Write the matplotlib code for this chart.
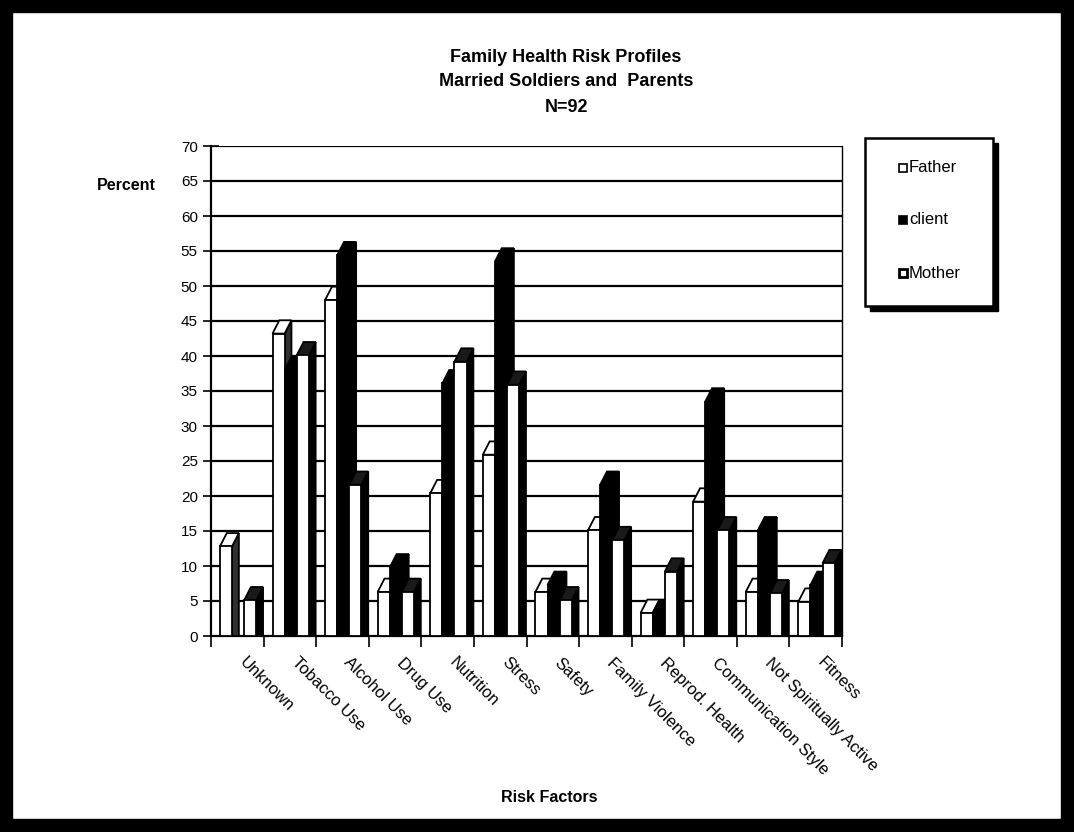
import matplotlib
matplotlib.use("Agg")
import matplotlib.pyplot as plt
from matplotlib.patches import Polygon, Rectangle

plt.rcParams["font.family"] = ["Liberation Sans Narrow", "Liberation Sans", "DejaVu Sans"]

categories = ["Unknown", "Tobacco Use", "Alcohol Use", "Drug Use", "Nutrition",
              "Stress", "Safety", "Family Violence", "Reprod. Health",
              "Communication Style", "Not Spiritually Active", "Fitness"]
series_names = ["Father", "client", "Mother"]
father = [12.8, 43.2, 48.0, 6.3, 20.4, 25.9, 6.3, 15.1, 3.3, 19.2, 6.3, 4.9]
client = [0.0, 38.0, 54.4, 9.8, 36.1, 53.5, 7.3, 21.6, 3.3, 33.5, 15.1, 7.3]
mother = [5.1, 40.1, 21.6, 6.3, 39.2, 35.9, 5.1, 13.7, 9.2, 15.1, 6.1, 10.4]
yticks = list(range(0, 75, 5))

W, H = 1074, 832
fig = plt.figure(figsize=(W / 100, H / 100), dpi=100)
fig.patch.set_facecolor("white")


def px(x, y):
    # pixel position (origin top-left) -> figure fraction
    return x / W, 1 - y / H


ax_left, ax_right, ax_top, ax_bot = 211, 842, 146, 636
ax = fig.add_axes([ax_left / W, 1 - ax_bot / H,
                   (ax_right - ax_left) / W, (ax_bot - ax_top) / H])
ax.set_xlim(0, len(categories))
ax.set_ylim(0, 70)

# back-wall gridlines
for v in yticks[1:]:
    ax.axhline(v, color="black", lw=1.6, zorder=1)

# pseudo-3D columns: front face from ax.bar, top and side faces offset obliquely
offsets = [0.17, 0.40, 0.63]
bw = 0.23
dx, dy = 0.13, 1.9
fronts = ["white", "black", "white"]
tops = ["white", "black", "#1a1a1a"]
sides = ["#303030", "black", "black"]

for j, vals in enumerate([father, client, mother]):
    xs = [i + offsets[j] for i in range(len(categories))]
    bars = ax.bar(xs, vals, width=bw, align="edge", color=fronts[j],
                  edgecolor="black", linewidth=1.3)
    for i, (bar, h) in enumerate(zip(bars, vals)):
        z = 3 + (i * 3 + j) * 0.01
        bar.set_zorder(z + 0.005)
        if h <= 0:
            bar.set_visible(False)
            continue
        x0, x1 = xs[i], xs[i] + bw
        side = Polygon([(x1, 0), (x1 + dx, 0), (x1 + dx, h + dy), (x1, h)],
                       closed=True, facecolor=sides[j], edgecolor="black",
                       lw=1.3, zorder=z)
        top = Polygon([(x0, h), (x0 + dx, h + dy), (x1 + dx, h + dy), (x1, h)],
                      closed=True, facecolor=tops[j], edgecolor="black",
                      lw=1.3, zorder=z + 0.002)
        ax.add_patch(side)
        ax.add_patch(top)

ax.spines["top"].set_visible(False)
ax.spines["left"].set_linewidth(1.6)
ax.spines["bottom"].set_linewidth(1.6)
ax.spines["right"].set_linewidth(1.0)

ax.set_yticks(yticks)
ax.set_yticklabels([str(v) for v in yticks], fontsize=11)
ax.tick_params(axis="y", direction="inout", length=11, width=1.2, pad=4)
ax.set_xticks(range(len(categories) + 1))
ax.set_xticklabels([])
ax.tick_params(axis="x", direction="out", length=8, width=1.2)

for i, name in enumerate(categories):
    ax.text(i + 0.68, -2.7, name, rotation=-45, rotation_mode="anchor",
            ha="left", va="top", fontsize=12, clip_on=False)

# titles
title_font = dict(family=["Liberation Sans", "DejaVu Sans"], fontweight="bold",
                  ha="center", va="center")
fig.text(*px(566, 58), "Family Health Risk Profiles", fontsize=13, **title_font)
fig.text(*px(566, 82), "Married Soldiers and  Parents", fontsize=13, **title_font)
fig.text(*px(566, 108), "N=92", fontsize=13, **title_font)
fig.text(*px(126, 186), "Percent", fontsize=11.5, **title_font)
fig.text(*px(549, 797), "Risk Factors", fontsize=11.5, **title_font)

# legend box with heavy drop shadow
lx0, ly0, lx1, ly1 = 865, 138, 993, 306
sh = 5
fig.add_artist(Rectangle(px(lx0 + sh, ly1 + sh), (lx1 - lx0) / W, (ly1 - ly0) / H,
                         transform=fig.transFigure, facecolor="black",
                         edgecolor="black", zorder=5))
fig.add_artist(Rectangle(px(lx0, ly1), (lx1 - lx0) / W, (ly1 - ly0) / H,
                         transform=fig.transFigure, facecolor="white",
                         edgecolor="black", lw=1.8, zorder=6))
legend_y = [168, 220, 273]
marker_fc = ["white", "black", "white"]
marker_lw = [1.2, 1.2, 2.0]
for name, yy, fc, mlw in zip(series_names, legend_y, marker_fc, marker_lw):
    fig.add_artist(Rectangle(px(899, yy + 4), 8 / W, 8 / H,
                             transform=fig.transFigure, facecolor=fc,
                             edgecolor="black", lw=mlw, zorder=7))
    fig.text(*px(909, yy), name, fontsize=12, ha="left", va="center",
             family=["Liberation Sans", "DejaVu Sans"], zorder=7)

# heavy outer frame
fig.add_artist(Rectangle((0, 0), 1, 1, transform=fig.transFigure, fill=False,
                         edgecolor="black", lw=19, zorder=10))

fig.savefig("out.png", dpi=100, facecolor="white")
